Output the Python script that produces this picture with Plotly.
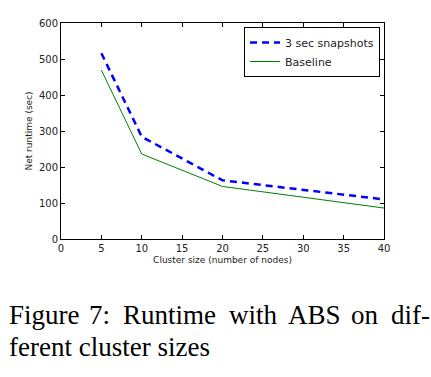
import plotly.graph_objects as go

cluster_sizes = [5, 10, 20, 40]
snapshots_3sec = [516, 284, 163, 110]
baseline = [469, 236, 146, 86]
x_ticks = [0, 5, 10, 15, 20, 25, 30, 35, 40]
y_ticks = [0, 100, 200, 300, 400, 500, 600]

L, R, T, B = 61, 47, 23, 138
W, H = 431, 377
pw, ph = W - L - R, H - T - B

fig = go.Figure()
fig.add_trace(go.Scatter(x=cluster_sizes, y=snapshots_3sec, mode="lines",
                         name="3 sec snapshots",
                         line=dict(color="#0000ff", width=2.5, dash="7px,5px")))
fig.add_trace(go.Scatter(x=cluster_sizes, y=baseline, mode="lines",
                         name="Baseline",
                         line=dict(color="#008000", width=1)))

axis_common = dict(showgrid=False, zeroline=False, showline=True, linecolor="black",
                   linewidth=1, mirror="ticks", ticks="inside", ticklen=4,
                   tickcolor="black", tickfont=dict(family="DejaVu Sans", size=10, color="#222"))
fig.update_xaxes(range=[0, 40], tickvals=x_ticks,
                 title=dict(text="Cluster size (number of nodes)",
                            font=dict(family="DejaVu Sans", size=9, color="#222"), standoff=3),
                 **axis_common)
fig.update_yaxes(range=[0, 600], tickvals=y_ticks,
                 title=dict(text="Net runtime (sec)",
                            font=dict(family="DejaVu Sans", size=9, color="#222"), standoff=4),
                 **axis_common)

def px_x(p):
    return (p - L) / pw

def px_y(p):
    return 1 - (p - T) / ph

cap_font = dict(family="Liberation Serif", size=27, color="black")
# caption line 1, justified word positions
words1 = [("Figure", 8, "left"), ("7:", 88, "left"), ("Runtime", 122, "left"),
          ("with", 228, "left"), ("ABS", 287, "left"), ("on", 350, "left"), ("dif-", 431, "right")]
for w, xp, anc in words1:
    fig.add_annotation(text=w, xref="paper", yref="paper", x=px_x(xp), y=px_y(331),
                       xanchor=anc, yanchor="bottom", showarrow=False,
                       font=cap_font, borderpad=0)
fig.add_annotation(text="ferent cluster sizes", xref="paper", yref="paper", x=px_x(8), y=px_y(363),
                   xanchor="left", yanchor="bottom", showarrow=False,
                   font=cap_font, borderpad=0)

fig.update_layout(
    width=W, height=H,
    margin=dict(l=L, r=R, t=T, b=B),
    paper_bgcolor="white", plot_bgcolor="white",
    showlegend=True,
    legend=dict(x=px_x(244), y=px_y(27), xanchor="left", yanchor="top",
                bordercolor="black", borderwidth=1, bgcolor="white",
                font=dict(family="DejaVu Sans", size=11, color="#222"),
                tracegroupgap=0, itemwidth=30),
)

fig.write_html("out.html", config={"displayModeBar": False},
               post_script="document.body.style.margin='0';document.body.style.overflow='hidden';")
